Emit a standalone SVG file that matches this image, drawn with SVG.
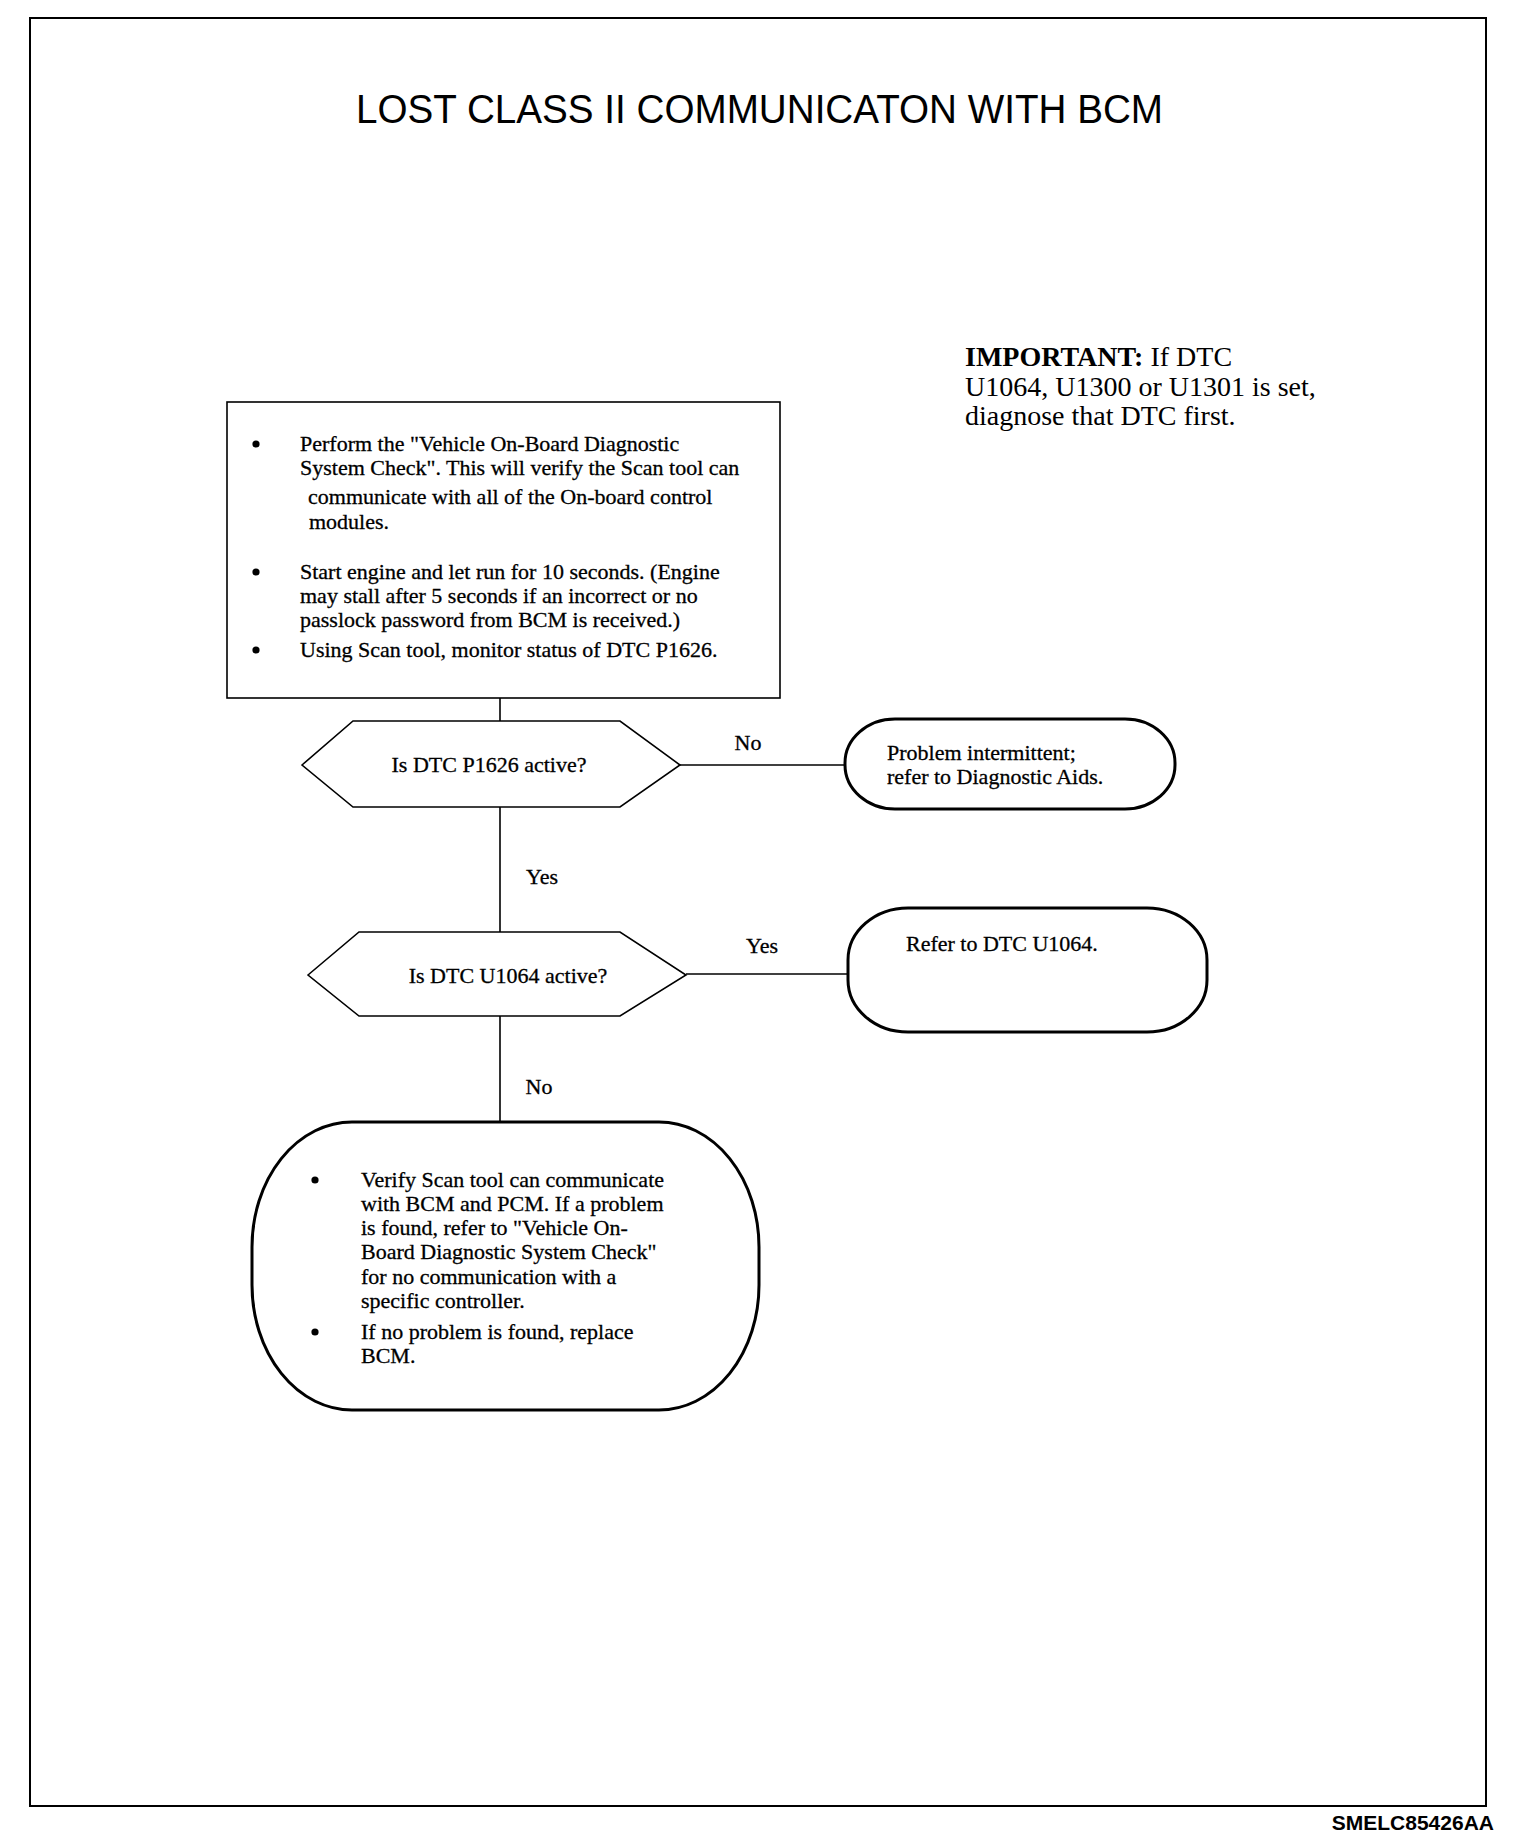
<svg xmlns="http://www.w3.org/2000/svg" width="1520" height="1844" viewBox="0 0 1520 1844">
<style>
.t{font-family:"Liberation Serif","Times New Roman",serif;font-size:22px;fill:#000;stroke:#000;stroke-width:0.3}
.lbl{font-family:"Liberation Serif","Times New Roman",serif;font-size:22px;fill:#000;stroke:#000;stroke-width:0.3;text-anchor:middle}
.thin{fill:#fff;stroke:#000;stroke-width:1.6}
.thick{fill:#fff;stroke:#000;stroke-width:3}
.ln{stroke:#000;stroke-width:1.6;fill:none}
.bul{fill:#000}
</style>
<rect x="0" y="0" width="1520" height="1844" fill="#fff"/>
<rect id="frame" x="30" y="18" width="1456" height="1788" fill="none" stroke="#000" stroke-width="2"/>
<text id="title" x="356" y="123" font-family="'Liberation Sans',Arial,sans-serif" font-size="40" textLength="807" lengthAdjust="spacingAndGlyphs">LOST CLASS II COMMUNICATON WITH BCM</text>
<g id="important">
<text x="965" y="366" font-family="'Liberation Serif','Times New Roman',serif" font-size="28"><tspan font-weight="bold">IMPORTANT:</tspan> If DTC</text>
<text x="965" y="396" font-family="'Liberation Serif','Times New Roman',serif" font-size="28">U1064, U1300 or U1301 is set,</text>
<text x="965" y="425" font-family="'Liberation Serif','Times New Roman',serif" font-size="28">diagnose that DTC first.</text>
</g>
<g id="connectors">
<line class="ln" x1="500" y1="698" x2="500" y2="721"/>
<line class="ln" x1="500" y1="807" x2="500" y2="932"/>
<line class="ln" x1="500" y1="1016" x2="500" y2="1122"/>
<line class="ln" x1="680" y1="765" x2="845" y2="765"/>
<line class="ln" x1="686" y1="974" x2="848" y2="974"/>
<text class="lbl" x="748" y="750">No</text>
<text class="lbl" x="542" y="884">Yes</text>
<text class="lbl" x="762" y="953">Yes</text>
<text class="lbl" x="539" y="1094">No</text>
</g>
<g id="step1">
<rect class="thin" x="227" y="402" width="553" height="296"/>
<circle class="bul" cx="256" cy="444" r="3.6"/><text class="t" x="300" y="451">Perform the "Vehicle On-Board Diagnostic</text>
<text class="t" x="300" y="475">System Check". This will verify the Scan tool can</text>
<text class="t" x="308" y="504">communicate with all of the On-board control</text>
<text class="t" x="309" y="529">modules.</text>
<circle class="bul" cx="256" cy="572" r="3.6"/><text class="t" x="300" y="579">Start engine and let run for 10 seconds. (Engine</text>
<text class="t" x="300" y="603">may stall after 5 seconds if an incorrect or no</text>
<text class="t" x="300" y="627">passlock password from BCM is received.)</text>
<circle class="bul" cx="256" cy="650" r="3.6"/><text class="t" x="300" y="657">Using Scan tool, monitor status of DTC P1626.</text>
</g>
<g id="decision1">
<polygon class="thin" points="302,765 353,721 620,721 680,765 620,807 353,807"/>
<text class="lbl" x="489" y="772">Is DTC P1626 active?</text>
</g>
<g id="end1">
<rect class="thick" x="845" y="719" width="330" height="90" rx="50" ry="44"/>
<text class="t" x="887" y="760">Problem intermittent;</text>
<text class="t" x="887" y="784">refer to Diagnostic Aids.</text>
</g>
<g id="decision2">
<polygon class="thin" points="308,975 359,932 620,932 686,975 620,1016 359,1016"/>
<text class="lbl" x="508" y="983">Is DTC U1064 active?</text>
</g>
<g id="end2">
<rect class="thick" x="848" y="908" width="359" height="124" rx="60" ry="52"/>
<text class="t" x="906" y="951">Refer to DTC U1064.</text>
</g>
<g id="end3">
<rect class="thick" x="252" y="1122" width="507" height="288" rx="100" ry="125"/>
<circle class="bul" cx="315" cy="1180" r="3.6"/><text class="t" x="361" y="1187">Verify Scan tool can communicate</text>
<text class="t" x="361" y="1211">with BCM and PCM. If a problem</text>
<text class="t" x="361" y="1235">is found, refer to "Vehicle On-</text>
<text class="t" x="361" y="1259">Board Diagnostic System Check"</text>
<text class="t" x="361" y="1284">for no communication with a</text>
<text class="t" x="361" y="1308">specific controller.</text>
<circle class="bul" cx="315" cy="1332" r="3.6"/><text class="t" x="361" y="1339">If no problem is found, replace</text>
<text class="t" x="361" y="1363">BCM.</text>
</g>
<text id="code" x="1494" y="1830" text-anchor="end" font-family="'Liberation Sans',Arial,sans-serif" font-size="21" font-weight="bold">SMELC85426AA</text>
</svg>
